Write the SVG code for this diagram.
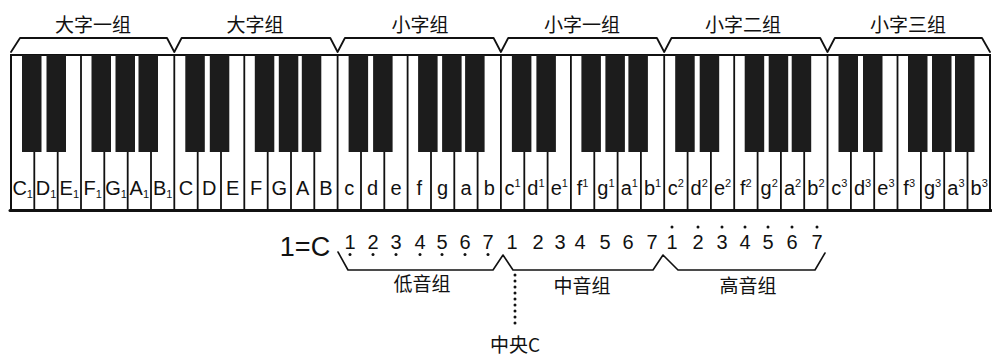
<svg xmlns="http://www.w3.org/2000/svg" width="992" height="359" viewBox="0 0 992 359">
<style>
.ln{stroke:#111;fill:none;stroke-linecap:round;stroke-linejoin:round}
.bk{fill:#1c1c1c}
.cjk{font-family:"Noto Sans CJK SC","Noto Sans",sans-serif;font-size:19px;fill:#111;text-anchor:middle}
.key{font-family:"Liberation Sans","DejaVu Sans",sans-serif;font-size:20px;fill:#111;text-anchor:middle}
.num{font-family:"Liberation Sans","DejaVu Sans",sans-serif;font-size:20px;fill:#111;text-anchor:middle}
.sm{font-size:11px}
.dot{fill:#111}
</style>
<rect width="992" height="359" fill="#fff"/>
<g id="octave-labels">
<text class="cjk" x="93" y="32">大字一组</text>
<text class="cjk" x="255" y="32">大字组</text>
<text class="cjk" x="420" y="32">小字组</text>
<text class="cjk" x="582" y="32">小字一组</text>
<text class="cjk" x="743" y="32">小字二组</text>
<text class="cjk" x="908" y="32">小字三组</text>
</g>
<g id="top-braces">
<path class="ln" stroke-width="1.8" d="M11,52 L20,38 L167,38 L174.3,52 L181.6,38 L330.3,38 L337.6,52 L344.9,38 L493.6,38 L500.9,52 L508.2,38 L656.9,38 L664.2,52 L671.5,38 L820.2,38 L827.5,52 L834.8,38 L982,38 L990,52"/>
</g>
<g id="keyboard">
<rect x="11" y="55" width="979" height="155" fill="#fff" stroke="#111" stroke-width="2"/>
<g class="ln" stroke-width="1.8">
<path d="M34.3,55V210M57.7,55V210M81,55V210M104.3,55V210M127.7,55V210M151,55V210M174.3,55V210M197.7,55V210M221,55V210M244.3,55V210M267.7,55V210M291,55V210M314.3,55V210M337.6,55V210M361,55V210M384.3,55V210M407.6,55V210M431,55V210M454.3,55V210M477.6,55V210M500.9,55V210M524.3,55V210M547.6,55V210M570.9,55V210M594.3,55V210M617.6,55V210M640.9,55V210M664.2,55V210M687.6,55V210M710.9,55V210M734.2,55V210M757.6,55V210M780.9,55V210M804.2,55V210M827.5,55V210M850.9,55V210M874.2,55V210M897.5,55V210M920.9,55V210M944.2,55V210M967.5,55V210"/>
</g>
<line class="ln" x1="10" y1="210.5" x2="991" y2="210.5" stroke-width="3"/>
<g id="black-keys">
<g id="bk-oct0" transform="translate(11,0)">
<rect class="bk" x="11" y="55" width="19.5" height="97"/><rect class="bk" x="35.5" y="55" width="19.5" height="97"/><rect class="bk" x="80.5" y="55" width="19.5" height="97"/><rect class="bk" x="104.5" y="55" width="19.5" height="97"/><rect class="bk" x="127.5" y="55" width="19.5" height="97"/>
</g>
<g id="bk-oct1" transform="translate(174.3,0)">
<rect class="bk" x="11" y="55" width="19.5" height="97"/><rect class="bk" x="35.5" y="55" width="19.5" height="97"/><rect class="bk" x="80.5" y="55" width="19.5" height="97"/><rect class="bk" x="104.5" y="55" width="19.5" height="97"/><rect class="bk" x="127.5" y="55" width="19.5" height="97"/>
</g>
<g id="bk-oct2" transform="translate(337.6,0)">
<rect class="bk" x="11" y="55" width="19.5" height="97"/><rect class="bk" x="35.5" y="55" width="19.5" height="97"/><rect class="bk" x="80.5" y="55" width="19.5" height="97"/><rect class="bk" x="104.5" y="55" width="19.5" height="97"/><rect class="bk" x="127.5" y="55" width="19.5" height="97"/>
</g>
<g id="bk-oct3" transform="translate(500.9,0)">
<rect class="bk" x="11" y="55" width="19.5" height="97"/><rect class="bk" x="35.5" y="55" width="19.5" height="97"/><rect class="bk" x="80.5" y="55" width="19.5" height="97"/><rect class="bk" x="104.5" y="55" width="19.5" height="97"/><rect class="bk" x="127.5" y="55" width="19.5" height="97"/>
</g>
<g id="bk-oct4" transform="translate(664.2,0)">
<rect class="bk" x="11" y="55" width="19.5" height="97"/><rect class="bk" x="35.5" y="55" width="19.5" height="97"/><rect class="bk" x="80.5" y="55" width="19.5" height="97"/><rect class="bk" x="104.5" y="55" width="19.5" height="97"/><rect class="bk" x="127.5" y="55" width="19.5" height="97"/>
</g>
<g id="bk-oct5" transform="translate(827.5,0)">
<rect class="bk" x="11" y="55" width="19.5" height="97"/><rect class="bk" x="35.5" y="55" width="19.5" height="97"/><rect class="bk" x="80.5" y="55" width="19.5" height="97"/><rect class="bk" x="104.5" y="55" width="19.5" height="97"/><rect class="bk" x="127.5" y="55" width="19.5" height="97"/>
</g>
</g>
</g>
<g id="key-labels">
<text class="key" x="22.7" y="195">C<tspan class="sm" dy="3">1</tspan></text>
<text class="key" x="46" y="195">D<tspan class="sm" dy="3">1</tspan></text>
<text class="key" x="69.3" y="195">E<tspan class="sm" dy="3">1</tspan></text>
<text class="key" x="92.7" y="195">F<tspan class="sm" dy="3">1</tspan></text>
<text class="key" x="116" y="195">G<tspan class="sm" dy="3">1</tspan></text>
<text class="key" x="139.3" y="195">A<tspan class="sm" dy="3">1</tspan></text>
<text class="key" x="162.7" y="195">B<tspan class="sm" dy="3">1</tspan></text>
<text class="key" x="186" y="195">C</text>
<text class="key" x="209.3" y="195">D</text>
<text class="key" x="232.7" y="195">E</text>
<text class="key" x="256" y="195">F</text>
<text class="key" x="279.3" y="195">G</text>
<text class="key" x="302.7" y="195">A</text>
<text class="key" x="326" y="195">B</text>
<text class="key" x="349.3" y="195">c</text>
<text class="key" x="372.6" y="195">d</text>
<text class="key" x="396" y="195">e</text>
<text class="key" x="419.3" y="195">f</text>
<text class="key" x="442.6" y="195">g</text>
<text class="key" x="466" y="195">a</text>
<text class="key" x="489.3" y="195">b</text>
<text class="key" x="512.6" y="195">c<tspan class="sm" dy="-8">1</tspan></text>
<text class="key" x="535.9" y="195">d<tspan class="sm" dy="-8">1</tspan></text>
<text class="key" x="559.3" y="195">e<tspan class="sm" dy="-8">1</tspan></text>
<text class="key" x="582.6" y="195">f<tspan class="sm" dy="-8">1</tspan></text>
<text class="key" x="605.9" y="195">g<tspan class="sm" dy="-8">1</tspan></text>
<text class="key" x="629.3" y="195">a<tspan class="sm" dy="-8">1</tspan></text>
<text class="key" x="652.6" y="195">b<tspan class="sm" dy="-8">1</tspan></text>
<text class="key" x="675.9" y="195">c<tspan class="sm" dy="-8">2</tspan></text>
<text class="key" x="699.2" y="195">d<tspan class="sm" dy="-8">2</tspan></text>
<text class="key" x="722.6" y="195">e<tspan class="sm" dy="-8">2</tspan></text>
<text class="key" x="745.9" y="195">f<tspan class="sm" dy="-8">2</tspan></text>
<text class="key" x="769.2" y="195">g<tspan class="sm" dy="-8">2</tspan></text>
<text class="key" x="792.6" y="195">a<tspan class="sm" dy="-8">2</tspan></text>
<text class="key" x="815.9" y="195">b<tspan class="sm" dy="-8">2</tspan></text>
<text class="key" x="839.2" y="195">c<tspan class="sm" dy="-8">3</tspan></text>
<text class="key" x="862.5" y="195">d<tspan class="sm" dy="-8">3</tspan></text>
<text class="key" x="885.9" y="195">e<tspan class="sm" dy="-8">3</tspan></text>
<text class="key" x="909.2" y="195">f<tspan class="sm" dy="-8">3</tspan></text>
<text class="key" x="932.5" y="195">g<tspan class="sm" dy="-8">3</tspan></text>
<text class="key" x="955.9" y="195">a<tspan class="sm" dy="-8">3</tspan></text>
<text class="key" x="979.2" y="195">b<tspan class="sm" dy="-8">3</tspan></text>
</g>
<g id="notation">
<text class="num" x="305" y="256" style="font-size:27px">1=C</text>
<g id="low-digits">
<text class="num" x="350" y="249">1</text><text class="num" x="373" y="249">2</text><text class="num" x="396" y="249">3</text><text class="num" x="420" y="249">4</text><text class="num" x="442" y="249">5</text><text class="num" x="465" y="249">6</text><text class="num" x="488" y="249">7</text>
<circle class="dot" cx="350" cy="254.5" r="1.5"/><circle class="dot" cx="373" cy="254.5" r="1.5"/><circle class="dot" cx="396" cy="254.5" r="1.5"/><circle class="dot" cx="420" cy="254.5" r="1.5"/><circle class="dot" cx="442" cy="254.5" r="1.5"/><circle class="dot" cx="465" cy="254.5" r="1.5"/><circle class="dot" cx="488" cy="254.5" r="1.5"/>
</g>
<g id="mid-digits">
<text class="num" x="512" y="249">1</text><text class="num" x="538" y="249">2</text><text class="num" x="560" y="249">3</text><text class="num" x="580" y="249">4</text><text class="num" x="605" y="249">5</text><text class="num" x="628" y="249">6</text><text class="num" x="652" y="249">7</text>
</g>
<g id="high-digits">
<text class="num" x="672" y="249">1</text><text class="num" x="698" y="249">2</text><text class="num" x="722" y="249">3</text><text class="num" x="745" y="249">4</text><text class="num" x="768" y="249">5</text><text class="num" x="792" y="249">6</text><text class="num" x="817" y="249">7</text>
<circle class="dot" cx="672" cy="227" r="1.5"/><circle class="dot" cx="698" cy="227" r="1.5"/><circle class="dot" cx="722" cy="227" r="1.5"/><circle class="dot" cx="745" cy="227" r="1.5"/><circle class="dot" cx="768" cy="227" r="1.5"/><circle class="dot" cx="792" cy="227" r="1.5"/><circle class="dot" cx="817" cy="227" r="1.5"/>
</g>
<path class="ln" stroke-width="1.6" d="M338,252 L348,270 L493,270 L503,255 L513,270 L653,270 L663,255 L678,270 L815,270 L825,253"/>
<text class="cjk" x="422" y="291">低音组</text>
<text class="cjk" x="582" y="293">中音组</text>
<text class="cjk" x="748" y="293">高音组</text>
</g>
<g id="middle-c">
<g class="dot">
<circle cx="515" cy="275" r="1.5"/><circle cx="515" cy="281" r="1.5"/><circle cx="515" cy="287" r="1.5"/><circle cx="515" cy="293" r="1.5"/><circle cx="515" cy="299" r="1.5"/><circle cx="515" cy="305" r="1.5"/><circle cx="515" cy="311" r="1.5"/><circle cx="515" cy="317" r="1.5"/><circle cx="515" cy="323" r="1.5"/>
</g>
<text class="cjk" x="515" y="352">中央C</text>
</g>
</svg>
